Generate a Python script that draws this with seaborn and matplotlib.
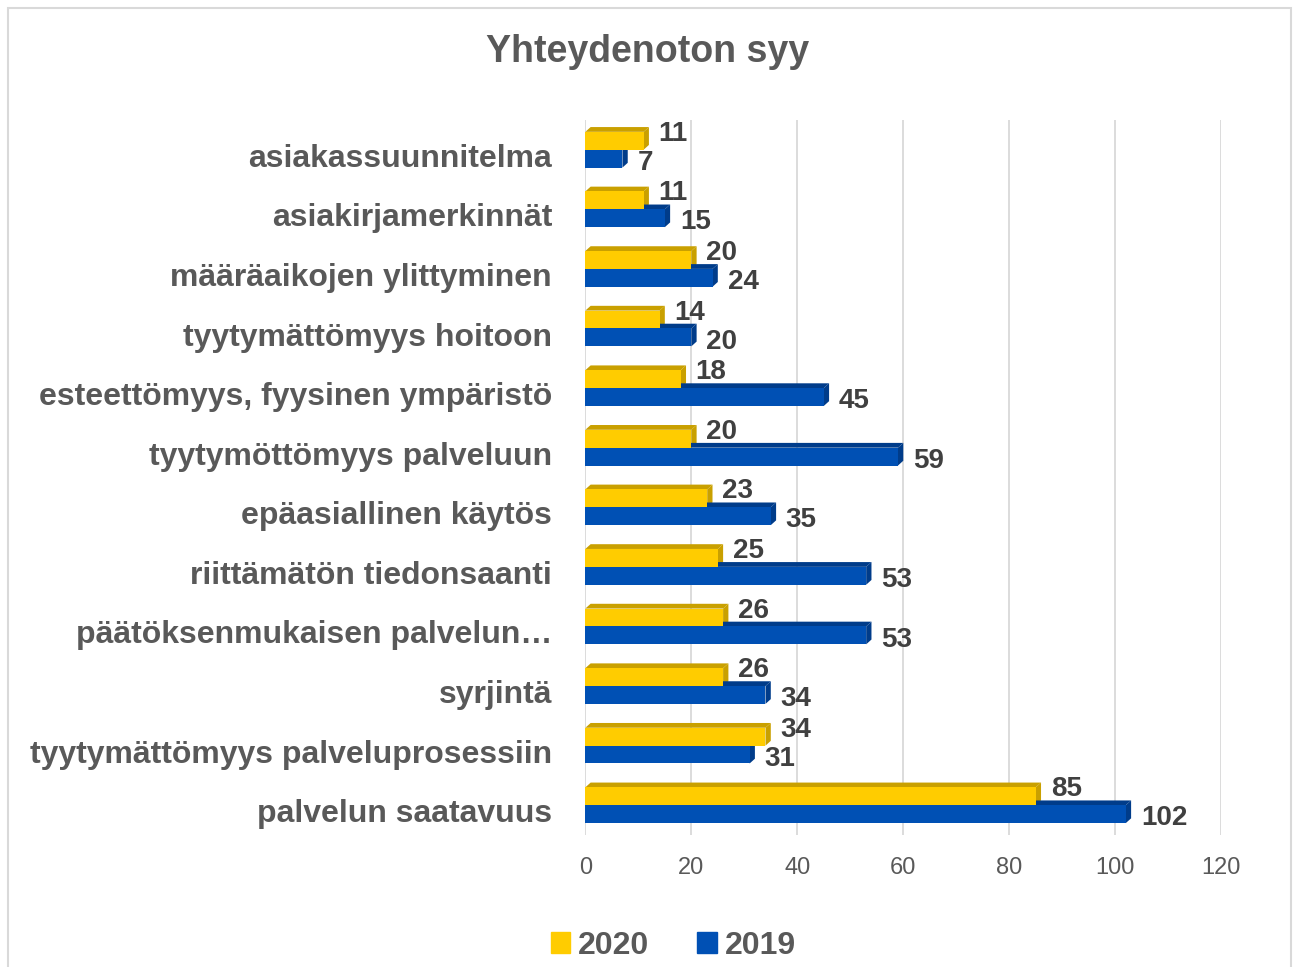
import pandas as pd
import matplotlib.pyplot as plt
import matplotlib.patches as mpatches
import matplotlib.transforms as mtransforms
import seaborn as sns

categories = [
    "asiakassuunnitelma",
    "asiakirjamerkinnät",
    "määräaikojen ylittyminen",
    "tyytymättömyys hoitoon",
    "esteettömyys, fyysinen ympäristö",
    "tyytymöttömyys palveluun",
    "epäasiallinen käytös",
    "riittämätön tiedonsaanti",
    "päätöksenmukaisen palvelun…",
    "syrjintä",
    "tyytymättömyys palveluprosessiin",
    "palvelun saatavuus",
]
values_2020 = [11, 11, 20, 14, 18, 20, 23, 25, 26, 26, 34, 85]
values_2019 = [7, 15, 24, 20, 45, 59, 35, 53, 53, 34, 31, 102]
years = ["2020", "2019"]
x_ticks = [0, 20, 40, 60, 80, 100, 120]

colors = {"2020": "#FFCC00", "2019": "#0050B4"}
side_colors = {"2020": "#C9A000", "2019": "#003C8A"}
label_dy = {"2020": 5, "2019": -3}
grey = "#595959"
dark = "#404040"

df = pd.DataFrame({
    "category": categories * 2,
    "value": values_2020 + values_2019,
    "year": ["2020"] * len(categories) + ["2019"] * len(categories),
})

sns.set_style("white")
plt.rcParams["font.family"] = ["Liberation Sans", "DejaVu Sans"]

fig = plt.figure(figsize=(12.95, 9.67), dpi=100)
ax = fig.add_axes([0.452, 0.1365, 0.491, 0.7395])

sns.barplot(data=df, y="category", x="value", hue="year", hue_order=years,
            palette=colors, order=categories, orient="h", width=0.6,
            saturation=1, ax=ax, legend=False, zorder=3, linewidth=0)

# fake 3D depth faces from each bar's geometry
dx, dy = 1.0, -0.08
for bars, year in zip(ax.containers, years):
    for rect in bars:
        x0, y0 = rect.get_x(), rect.get_y()
        w, h = rect.get_width(), rect.get_height()
        top = [(x0, y0), (x0 + w, y0), (x0 + w + dx, y0 + dy), (x0 + dx, y0 + dy)]
        side = [(x0 + w, y0), (x0 + w + dx, y0 + dy),
                (x0 + w + dx, y0 + h + dy), (x0 + w, y0 + h)]
        ax.add_patch(mpatches.Polygon(top, closed=True, facecolor=side_colors[year],
                                      zorder=2.5, lw=0))
        ax.add_patch(mpatches.Polygon(side, closed=True, facecolor=side_colors[year],
                                      zorder=2.5, lw=0))
        ax.annotate(f"{w:.0f}", (x0 + w + dx, y0 + h / 2), xytext=(7, label_dy[year]),
                    textcoords="offset points", va="center", ha="left",
                    fontsize=20, fontweight="bold", color=dark, zorder=5)

ax.set_xlim(0, 120)
ax.set_ylim(len(categories) - 0.5, -0.5)
ax.set_xticks(x_ticks)
ax.set_xlabel("")
ax.set_ylabel("")
ax.grid(axis="x", color="#D9D9D9", linewidth=1.3, zorder=0)
ax.set_axisbelow(True)
for s in ax.spines.values():
    s.set_visible(False)
ax.tick_params(axis="y", length=0, pad=24, labelsize=23, labelcolor=grey)
ax.tick_params(axis="x", length=0, pad=16, labelsize=17, labelcolor=grey)
shift = mtransforms.ScaledTranslation(0, -4 / 72, fig.dpi_scale_trans)
for lbl in ax.get_yticklabels():
    lbl.set_fontweight("bold")
    lbl.set_transform(lbl.get_transform() + shift)

fig.suptitle("Yhteydenoton syy", y=0.946, va="center", fontsize=27,
             fontweight="bold", color=grey)

handles = [mpatches.Patch(color=colors[y], label=y) for y in years]
leg = fig.legend(handles=handles, loc="center", bbox_to_anchor=(0.52, 0.022),
                 ncol=2, frameon=False, handlelength=0.6, handleheight=0.6,
                 handletextpad=0.25, columnspacing=1.5,
                 prop={"size": 23, "weight": "bold"})
for t in leg.get_texts():
    t.set_color(grey)

fig.add_artist(mpatches.Rectangle((0.006, -0.01), 0.991, 1.002, transform=fig.transFigure,
                                  fill=False, edgecolor="#D9D9D9", lw=1.5))

fig.savefig("out.png", dpi=100)
